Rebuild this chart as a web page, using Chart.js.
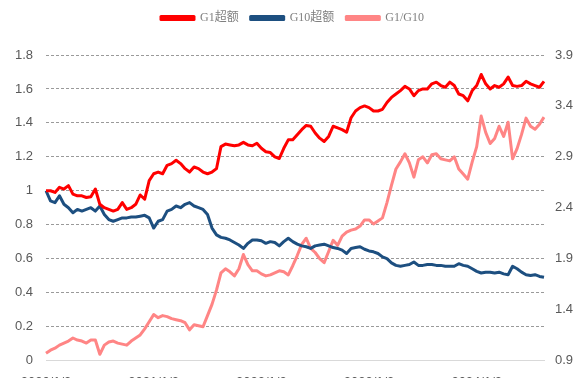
<!DOCTYPE html>
<html lang="zh">
<head>
<meta charset="UTF-8">
<title>G1 / G10 超额</title>
<script src="https://cdn.jsdelivr.net/npm/chart.js"></script>
<style>
  html, body { margin: 0; padding: 0; background: #fff; overflow: hidden; }
  #wrap { width: 585px; height: 404px; position: relative; }
</style>
</head>
<body>
<div id="wrap"><canvas id="chart"></canvas></div>
<script>
// semi-monthly dates, 2020/1/2 .. 2024/8/16
const dates = [
  '2020/1/2','2020/1/16','2020/2/3','2020/2/17','2020/3/2','2020/3/16','2020/4/1','2020/4/16','2020/5/6','2020/5/18','2020/6/1','2020/6/16',
  '2020/7/1','2020/7/16','2020/8/3','2020/8/17','2020/9/1','2020/9/16','2020/10/9','2020/10/16','2020/11/2','2020/11/16','2020/12/1','2020/12/16',
  '2021/1/2','2021/1/18','2021/2/1','2021/2/18','2021/3/1','2021/3/16','2021/4/1','2021/4/16','2021/5/6','2021/5/17','2021/6/1','2021/6/16',
  '2021/7/1','2021/7/16','2021/8/2','2021/8/16','2021/9/1','2021/9/16','2021/10/8','2021/10/18','2021/11/1','2021/11/16','2021/12/1','2021/12/16',
  '2022/1/2','2022/1/17','2022/2/7','2022/2/16','2022/3/1','2022/3/16','2022/4/1','2022/4/18','2022/5/5','2022/5/16','2022/6/1','2022/6/16',
  '2022/7/1','2022/7/18','2022/8/1','2022/8/16','2022/9/1','2022/9/16','2022/10/10','2022/10/17','2022/11/1','2022/11/16','2022/12/1','2022/12/16',
  '2023/1/2','2023/1/16','2023/2/1','2023/2/16','2023/3/1','2023/3/16','2023/4/3','2023/4/17','2023/5/4','2023/5/16','2023/6/1','2023/6/16',
  '2023/7/3','2023/7/17','2023/8/1','2023/8/16','2023/9/1','2023/9/18','2023/10/9','2023/10/16','2023/11/1','2023/11/16','2023/12/1','2023/12/18',
  '2024/1/2','2024/1/16','2024/2/1','2024/2/19','2024/3/1','2024/3/18','2024/4/1','2024/4/16','2024/5/6','2024/5/16','2024/6/3','2024/6/17',
  '2024/7/1','2024/7/16','2024/8/1','2024/8/16'
];

// G1 超额 (left axis)
const g1 = [
  1.00, 1.00, 0.99, 1.02, 1.01, 1.03, 0.98, 0.97, 0.97, 0.96, 0.965, 1.01,
  0.92, 0.90, 0.89, 0.88, 0.89, 0.93, 0.89, 0.90, 0.92, 0.975, 0.95, 1.06,
  1.10, 1.11, 1.10, 1.15, 1.16, 1.18, 1.16, 1.13, 1.11, 1.14, 1.13, 1.11,
  1.10, 1.11, 1.13, 1.26, 1.275, 1.27, 1.265, 1.27, 1.285, 1.27, 1.265, 1.28,
  1.25, 1.23, 1.225, 1.20, 1.19, 1.25, 1.30, 1.30, 1.33, 1.36, 1.385, 1.38,
  1.34, 1.31, 1.29, 1.32, 1.38, 1.37, 1.36, 1.345, 1.43, 1.47, 1.49, 1.50,
  1.49, 1.47, 1.47, 1.48, 1.52, 1.55, 1.57, 1.59, 1.615, 1.60, 1.56, 1.59,
  1.60, 1.60, 1.63, 1.64, 1.62, 1.61, 1.64, 1.62, 1.57, 1.56, 1.53, 1.59,
  1.62, 1.685, 1.63, 1.60, 1.62, 1.61, 1.63, 1.67, 1.62, 1.615, 1.62, 1.645,
  1.63, 1.62, 1.61, 1.645
];

// G10 超额 (left axis)
const g10 = [
  1.00, 0.94, 0.93, 0.97, 0.92, 0.90, 0.87, 0.89, 0.88, 0.89, 0.90, 0.88,
  0.91, 0.86, 0.83, 0.82, 0.83, 0.84, 0.84, 0.845, 0.845, 0.85, 0.855, 0.84,
  0.78, 0.82, 0.83, 0.88, 0.89, 0.91, 0.90, 0.92, 0.93, 0.91, 0.90, 0.89,
  0.86, 0.78, 0.74, 0.725, 0.72, 0.71, 0.695, 0.68, 0.66, 0.69, 0.71, 0.71,
  0.705, 0.69, 0.70, 0.695, 0.675, 0.70, 0.72, 0.70, 0.685, 0.675, 0.67, 0.66,
  0.675, 0.68, 0.685, 0.675, 0.665, 0.66, 0.65, 0.63, 0.66, 0.665, 0.67, 0.655,
  0.645, 0.64, 0.63, 0.61, 0.60, 0.575, 0.56, 0.555, 0.56, 0.565, 0.58, 0.56,
  0.56, 0.565, 0.565, 0.56, 0.56, 0.555, 0.555, 0.555, 0.57, 0.56, 0.555, 0.54,
  0.525, 0.515, 0.52, 0.52, 0.515, 0.52, 0.51, 0.505, 0.555, 0.54, 0.52, 0.505,
  0.50, 0.505, 0.495, 0.49
];

// G1/G10 (right axis)
const ratio = [
  0.97, 1.00, 1.02, 1.05, 1.07, 1.09, 1.12, 1.10, 1.09, 1.07, 1.10, 1.10,
  0.96, 1.05, 1.08, 1.09, 1.07, 1.06, 1.05, 1.09, 1.12, 1.15, 1.21, 1.28,
  1.35, 1.32, 1.34, 1.33, 1.31, 1.30, 1.29, 1.27, 1.20, 1.25, 1.24, 1.23,
  1.34, 1.45, 1.59, 1.76, 1.80, 1.77, 1.73, 1.80, 1.94, 1.84, 1.78, 1.78,
  1.75, 1.73, 1.74, 1.76, 1.78, 1.77, 1.74, 1.83, 1.93, 2.04, 2.10, 2.00,
  1.96, 1.90, 1.86, 1.97, 2.08, 2.03, 2.12, 2.16, 2.18, 2.19, 2.22, 2.28,
  2.28, 2.24, 2.27, 2.30, 2.45, 2.62, 2.78, 2.85, 2.93, 2.84, 2.70, 2.87,
  2.90, 2.84, 2.92, 2.93, 2.88, 2.87, 2.86, 2.90, 2.78, 2.73, 2.68, 2.85,
  3.00, 3.30, 3.14, 3.03, 3.08, 3.20, 3.10, 3.24, 2.88, 2.98, 3.12, 3.28,
  3.20, 3.17, 3.22, 3.29
];

const tickFont = { family: 'Liberation Sans, Arial, sans-serif', size: 13 };
const tickColor = '#595959';

// leave extra room below the legend
const legendGap = {
  id: 'legendGap',
  beforeInit(chart) {
    const fit = chart.legend.fit;
    chart.legend.fit = function () {
      fit.bind(chart.legend)();
      this.height += 21;
    };
  }
};

new Chart(document.getElementById('chart'), {
  type: 'line',
  data: {
    labels: dates,
    datasets: [
      { label: 'G1超额', data: g1, borderColor: '#ff0000', backgroundColor: '#ff0000', borderWidth: 3, yAxisID: 'y' },
      { label: 'G10超额', data: g10, borderColor: '#1d4f80', backgroundColor: '#1d4f80', borderWidth: 3, yAxisID: 'y' },
      { label: 'G1/G10', data: ratio, borderColor: '#ff8585', backgroundColor: '#ff8585', borderWidth: 3, yAxisID: 'y1' }
    ]
  },
  plugins: [legendGap],
  options: {
    responsive: true,
    maintainAspectRatio: false,
    animation: false,
    elements: { point: { radius: 0 }, line: { tension: 0, borderJoinStyle: 'round' } },
    plugins: {
      tooltip: { enabled: false },
      legend: {
        position: 'top',
        labels: {
          boxWidth: 33,
          boxHeight: 3,
          padding: 12,
          color: '#808080',
          font: { family: 'Liberation Serif, "Noto Sans CJK SC", serif', size: 12 }
        }
      }
    },
    scales: {
      x: {
        grid: { display: false, drawTicks: false },
        border: { display: true, color: '#d9d9d9', width: 1 },
        ticks: {
          autoSkip: false,
          maxRotation: 0,
          padding: 14,
          color: tickColor,
          font: tickFont,
          callback: (v, i) => dates[i].endsWith('/1/2') ? dates[i] : ''
        }
      },
      y: {
        position: 'left',
        min: 0,
        max: 1.8,
        ticks: {
          stepSize: 0.2,
          padding: 13,
          color: tickColor,
          font: tickFont,
          callback: v => String(+v.toFixed(1))
        },
        grid: {
          drawTicks: false,
          color: ctx => ctx.tick && ctx.tick.value === 0 ? 'rgba(0,0,0,0)' : '#9a9a9a',
          lineWidth: 1
        },
        border: { display: false, dash: [3, 2] },
        afterFit: s => { s.width = 46; }
      },
      y1: {
        position: 'right',
        min: 0.9,
        max: 3.9,
        ticks: {
          stepSize: 0.5,
          padding: 11,
          color: tickColor,
          font: tickFont,
          callback: v => v.toFixed(1)
        },
        grid: { display: false, drawTicks: false },
        border: { display: false },
        afterFit: s => { s.width = 41; }
      }
    }
  }
});
</script>
</body>
</html>
